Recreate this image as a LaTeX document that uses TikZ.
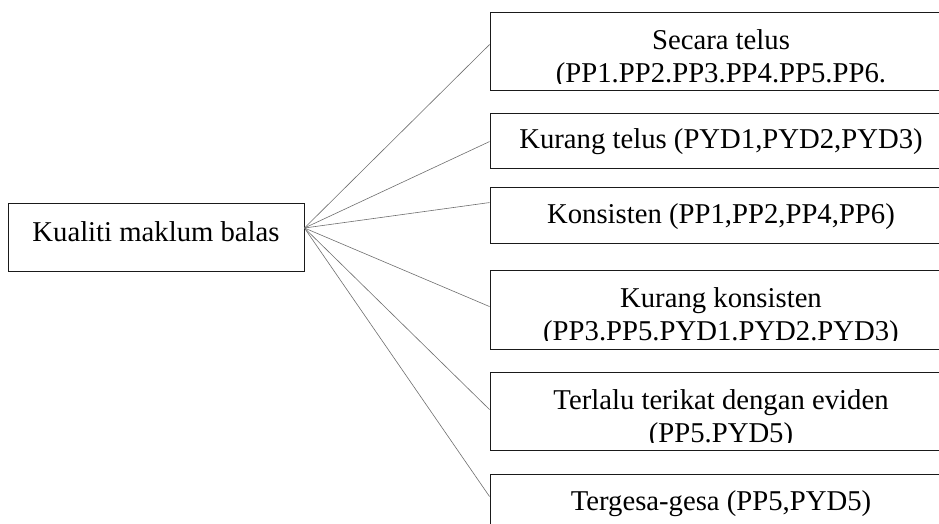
\documentclass[tikz,border=0pt]{standalone}
\usepackage{fontspec}
\setmainfont{Liberation Serif}
\usepackage{tikz}
\usetikzlibrary{calc}
\definecolor{cLine}{HTML}{6E6E6E}
\definecolor{cFrame}{HTML}{1A1A1A}

\begin{document}
\begin{tikzpicture}[x=1pt,y=-1pt,
  every node/.style={font=\fontsize{28.7}{33}\selectfont},
  kotak/.style={draw=cFrame,line width=0.9pt,inner sep=0pt,minimum width=462pt},
  satu/.style={kotak,minimum height=56pt,text height=20pt,text depth=4pt},
  garis/.style={cLine,line width=0.6pt}]
  \useasboundingbox (0,0) rectangle (939,523);
  % kotak utama
  \node[kotak,minimum width=296pt,minimum height=68pt,text height=19.6pt,text depth=11.6pt] (kualiti) at (156,237) {Kualiti maklum balas};
  % kotak kategori
  \node[kotak,minimum height=78pt] (telus) at (721,51) {};
  \node[satu,minimum height=55pt] (kurangtelus) at (721,140.5) {Kurang telus (PYD1,PYD2,PYD3)};
  \node[satu] (konsisten) at (721,215) {Konsisten (PP1,PP2,PP4,PP6)};
  \node[kotak,minimum height=79pt] (kurangkons) at (721,309.5) {};
  \node[kotak,minimum height=78pt] (terikat) at (721,411) {};
  \node[satu] (gopoh) at (721,502) {Tergesa-gesa (PP5,PYD5)};
  % teks dua baris, terpotong di bawah
  \begin{scope}
    \clip (telus.north west) rectangle ($(telus.south east)+(0,-7)$);
    \node[anchor=base,align=center,inner sep=0pt] (telusT) at (721,82) {Secara telus\\(PP1.PP2.PP3.PP4.PP5.PP6.};
  \end{scope}
  \begin{scope}
    \clip (kurangkons.north west) rectangle ($(kurangkons.south east)+(0,-9)$);
    \node[anchor=base,align=center,inner sep=0pt] (kurangkonsT) at (721,340) {Kurang konsisten\\(PP3.PP5.PYD1.PYD2.PYD3)};
  \end{scope}
  \begin{scope}
    \clip (terikat.north west) rectangle ($(terikat.south east)+(0,-8)$);
    \node[anchor=base,align=center,inner sep=0pt] (terikatT) at (721,442) {Terlalu terikat dengan eviden\\(PP5.PYD5)};
  \end{scope}
  % garis penghubung
  \coordinate (pusat) at ($(kualiti.east)+(0,-9)$);
  \foreach \n/\d in {telus/33,kurangtelus/29,konsisten/16,kurangkons/37,terikat/38,gopoh/23}
    \draw[garis] (pusat) -- ($(\n.north west)+(0,\d)$);
\end{tikzpicture}
\end{document}
